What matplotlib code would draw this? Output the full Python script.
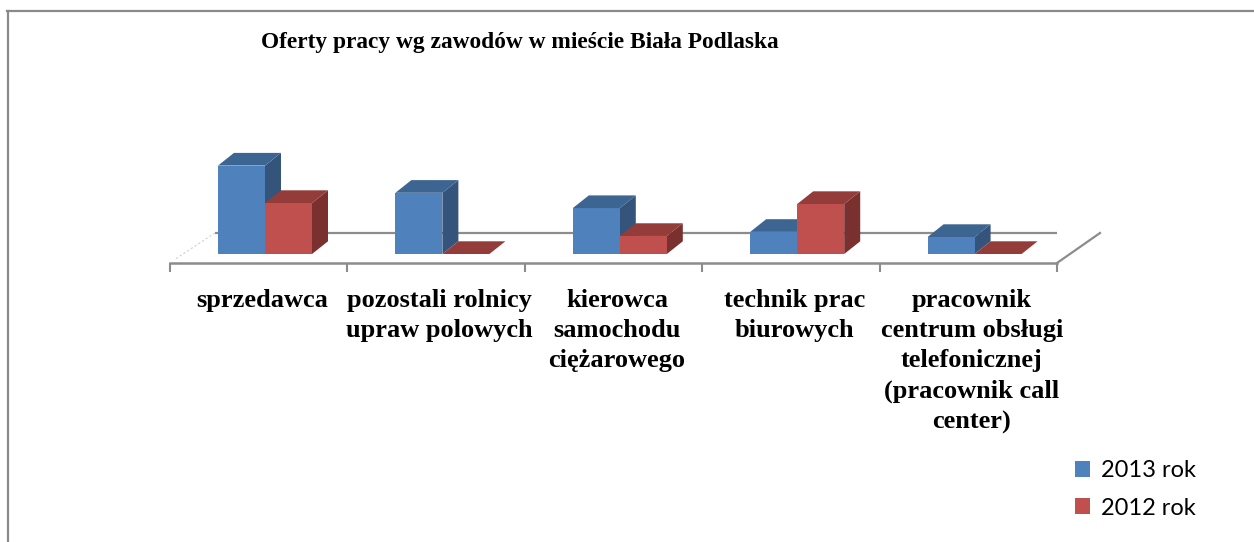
import matplotlib
matplotlib.use("Agg")
import matplotlib.pyplot as plt
from matplotlib.patches import Polygon
from matplotlib.lines import Line2D
import matplotlib.transforms as mtransforms
import numpy as np

# ---- data ----
title = "Oferty pracy wg zawodów w mieście Biała Podlaska"
categories = [
    "sprzedawca",
    "pozostali rolnicy\nupraw polowych",
    "kierowca\nsamochodu\nciężarowego",
    "technik prac\nbiurowych",
    "pracownik\ncentrum obsługi\ntelefonicznej\n(pracownik call\ncenter)",
]
series_names = ["2013 rok", "2012 rok"]
values_2013 = [26, 18, 13.5, 6.5, 5]
values_2012 = [15, 0, 5.3, 14.7, 0]

# ---- style ----
W, H = 1254, 542
fig = plt.figure(figsize=(W / 100, H / 100), dpi=100)
fig.patch.set_facecolor("white")

ax_left, ax_right, ax_bottom_px, ax_top_px = 170, 1057, 263, 100
ax = fig.add_axes([ax_left / W, 1 - ax_bottom_px / H,
                   (ax_right - ax_left) / W, (ax_bottom_px - ax_top_px) / H])
px_per_val = 3.4
zero_px = 254
ax.set_xlim(-0.5, len(categories) - 0.5)
ax.set_ylim(-(ax_bottom_px - zero_px) / px_per_val, (zero_px - ax_top_px) / px_per_val)
ax.set_facecolor("none")
ymin = ax.get_ylim()[0]

px_per_x = (ax_right - ax_left) / len(categories)
bar_w = 47 / px_per_x
dx = 16 / px_per_x
dy = 12.7 / px_per_val
offsets = [-0.097, 0.168]
colors = [
    ("#4F81BD", "#3D6592", "#34547C"),
    ("#C0504D", "#943C3A", "#7A302E"),
]

# floor (back edge, side edges)
floor_dx = 43 / px_per_x
floor_back = (zero_px - 233) / px_per_val
ax.plot([-0.5 + 45 / px_per_x, len(categories) - 0.5 + floor_dx], [floor_back, floor_back],
        color="#8C8C8C", lw=1.6, zorder=1, solid_capstyle="butt")
ax.plot([len(categories) - 0.5, len(categories) - 0.5 + floor_dx], [ymin, floor_back],
        color="#8C8C8C", lw=1.6, zorder=1, clip_on=False)
ax.plot([-0.5 + 6 / px_per_x, -0.5 + 45 / px_per_x], [ymin + 1.3, floor_back],
        color="#D0D0D0", lw=0.8, ls=(0, (2, 2)), zorder=1, clip_on=False)

x = np.arange(len(categories))
handles = []
for s, vals in enumerate([values_2013, values_2012]):
    front, top, side = colors[s]
    xs = x + offsets[s]
    bars = ax.bar(xs, vals, width=bar_w, color=front, zorder=3 + 3 * s,
                  label=series_names[s], linewidth=0)
    handles.append(bars)
    for xc, v in zip(xs, vals):
        x0, x1 = xc - bar_w / 2, xc + bar_w / 2
        ax.add_patch(Polygon([(x1, 0), (x1 + dx, dy), (x1 + dx, v + dy), (x1, v)],
                             closed=True, facecolor=side, edgecolor="none", zorder=2 + 3 * s))
        ax.add_patch(Polygon([(x0, v), (x0 + dx, v + dy), (x1 + dx, v + dy), (x1, v)],
                             closed=True, facecolor=top, edgecolor="none", zorder=4 + 3 * s))

# axes styling
for sp in ["top", "right", "left"]:
    ax.spines[sp].set_visible(False)
ax.spines["bottom"].set_color("#8C8C8C")
ax.spines["bottom"].set_linewidth(1.8)
ax.set_yticks([])
ax.set_xticks(np.arange(-0.5, len(categories)))
ax.tick_params(axis="x", direction="out", length=6.5, width=1.5, color="#8C8C8C",
               labelbottom=False)

# category labels
trans = mtransforms.blended_transform_factory(ax.transData, fig.transFigure)
for i, lab in enumerate(categories):
    fig.text(i + 0.02, 1 - 289 / H, lab, transform=trans, ha="center", va="top",
             fontsize=19, fontweight="bold", family="Liberation Serif",
             linespacing=1.4)

# title
fig.text(520 / W, 1 - 42 / H, title, ha="center", va="center", fontsize=16.8,
         fontweight="bold", family="Liberation Serif")

# legend
fig.legend(handles=handles, labels=series_names, loc="upper left",
           bbox_to_anchor=(1075 / W, 1 - 460 / H), frameon=False,
           prop={"family": "Lato", "size": 17}, handlelength=0.65, handleheight=0.65,
           handletextpad=0.45, labelspacing=0.7, borderpad=0, borderaxespad=0)

# chart frame (top and left edges visible)
fig.add_artist(Line2D([7 / W, 1], [1 - 10.5 / H, 1 - 10.5 / H], transform=fig.transFigure,
                      color="#8A8A8A", lw=1.6))
fig.add_artist(Line2D([8 / W, 8 / W], [1 - 10.5 / H, 0], transform=fig.transFigure,
                      color="#8A8A8A", lw=1.6))

fig.savefig("out.png", dpi=100)
